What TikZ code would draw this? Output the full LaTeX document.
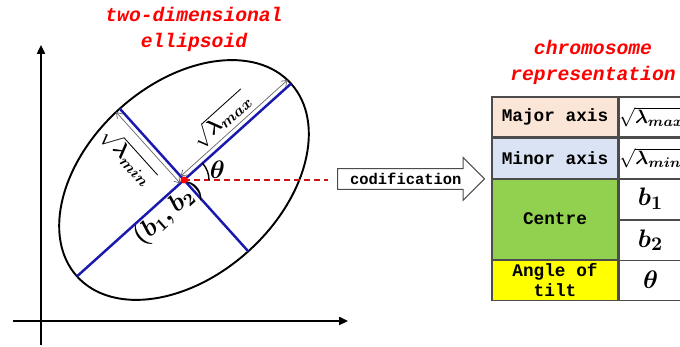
\documentclass[tikz,border=0pt]{standalone}
\usepackage{amsmath}
\usepackage{amssymb}
\usepackage{fontspec}
\setmonofont{Liberation Mono}
\usepackage{tikz}
\usetikzlibrary{arrows.meta, positioning, shapes, calc}
\definecolor{rojoTit}{RGB}{255,0,0}
\definecolor{rojoLin}{RGB}{205,20,20}
\definecolor{azulEje}{RGB}{25,25,175}
\definecolor{celdaMayor}{RGB}{251,229,214}
\definecolor{celdaMenor}{RGB}{218,227,243}
\definecolor{celdaCentro}{RGB}{146,208,80}
\definecolor{celdaAngulo}{RGB}{255,255,0}

\begin{document}
\begin{tikzpicture}[x=0.02cm, y=0.02cm,
  titulo/.style={text=rojoTit, align=center,
    font=\ttfamily\bfseries\itshape\fontsize{11.2}{14.8}\selectfont},
  celda/.style={draw=black!70, line width=0.6pt, minimum height=0.8cm,
    inner sep=0pt, align=center,
    font=\ttfamily\bfseries\fontsize{10.1}{11.4}\selectfont},
  raiz/.style={font=\fontsize{12.5}{15}\selectfont},
  letra/.style={font=\fontsize{15}{17}\selectfont},
  eje/.style={line width=1.1pt, -{Triangle[length=5pt, width=4.5pt]}},
  semieje/.style={azulEje, line width=1.4pt},
  cota/.style={black!60, line width=0.4pt,
    {Straight Barb[length=3pt, width=4pt]}-{Straight Barb[length=3pt, width=4pt]}}]

  \useasboundingbox (0,0) rectangle (680,347);

  % Ejes coordenados
  \coordinate (ejeYa) at (41,2);
  \coordinate (ejeYb) at (41,302);
  \coordinate (ejeXa) at (13,26);
  \coordinate (ejeXb) at (348,26);
  \draw[eje] (ejeYa) -- (ejeYb);
  \draw[eje] (ejeXa) -- (ejeXb);

  % Elipse y sus semiejes
  \coordinate (ctr) at (184,167);
  \draw[line width=1.1pt, shift={(184,167)}, rotate=42] (0,0) ellipse [x radius=144, y radius=96];
  \coordinate (majA) at ($(ctr)+(42:144)$);
  \coordinate (majB) at ($(ctr)+(222:144)$);
  \coordinate (minA) at ($(ctr)+(132:96)$);
  \coordinate (minB) at ($(ctr)+(312:96)$);
  \draw[semieje] (majB) -- (majA);
  \draw[semieje] (minA) -- (minB);

  % Linea horizontal y angulo
  \coordinate (hz) at (328,167);
  \draw[rojoLin, line width=0.9pt, dash pattern=on 3.4pt off 2.3pt] (ctr) -- (hz);
  \draw[line width=0.8pt] ($(ctr)+(0:25)$) arc[start angle=0, end angle=42, radius=25];
  \node[letra, font=\fontsize{13.5}{15}\selectfont] (theta) at ($(ctr)+(17:35)$) {$\boldsymbol{\theta}$};

  % Cotas de los semiejes
  \draw[cota] ($(ctr)+(132:5)$) -- ($(majA)+(132:5)$);
  \draw[cota] ($(minA)+(222:5)$) -- ($(ctr)+(222:5)$);
  \node[raiz, rotate=42] (lmax) at ($(ctr)+(42:68)+(132:20)$) {$\sqrt{\boldsymbol{\lambda}_{\boldsymbol{max}}}$};
  \node[raiz, rotate=-48] (lmin) at ($(ctr)+(132:55)+(222:26)$) {$\sqrt{\boldsymbol{\lambda}_{\boldsymbol{min}}}$};
  \node[rotate=42, font=\fontsize{14}{16}\selectfont] (bb) at ($(ctr)+(222:34)+(312:14)$) {$\boldsymbol{(b_1,b_2)}$};
  \fill[red] (ctr) circle (3.5);

  % Titulos
  \node[titulo] (tit1) at (194,318) {two-dimensional\\ellipsoid};
  \node[titulo] (tit2) at (593,285) {chromosome\\representation};

  % Tabla del cromosoma
  \node[celda, fill=celdaMayor, minimum width=2.52cm] (mayor) at (555,230) {Major axis};
  \node[celda, fill=celdaMenor, minimum width=2.52cm, below=0pt of mayor] (menor) {Minor axis};
  \node[celda, fill=celdaCentro, minimum width=2.52cm, minimum height=1.6cm, below=0pt of menor] (centro) {Centre};
  \node[celda, fill=celdaAngulo, minimum width=2.52cm, below=0pt of centro] (angulo) {Angle of\\tilt};
  \node[celda, raiz, font=\fontsize{11.2}{13}\selectfont, minimum width=1.26cm, right=0pt of mayor] (vmax) {$\sqrt{\boldsymbol{\lambda}_{\boldsymbol{max}}}$};
  \node[celda, raiz, font=\fontsize{11.2}{13}\selectfont, minimum width=1.26cm, right=0pt of menor] (vmin) {$\sqrt{\boldsymbol{\lambda}_{\boldsymbol{min}}}$};
  \node[celda, letra, minimum width=1.26cm, anchor=north west] (vb1) at (centro.north east) {$\boldsymbol{b_1}$};
  \node[celda, letra, minimum width=1.26cm, below=0pt of vb1] (vb2) {$\boldsymbol{b_2}$};
  \node[celda, letra, minimum width=1.26cm, right=0pt of angulo] (vtheta) {$\boldsymbol{\theta}$};

  % Flecha de codificacion
  \node[single arrow, draw=black!70, line width=0.6pt, single arrow head extend=0.22cm,
    minimum height=2.94cm, text height=6.4pt, text depth=0.3pt, inner ysep=2.3pt, inner xsep=4pt,
    font=\ttfamily\bfseries\fontsize{8.8}{10}\selectfont, anchor=tail] (codif) at (337,168) {codification};
\end{tikzpicture}
\end{document}
